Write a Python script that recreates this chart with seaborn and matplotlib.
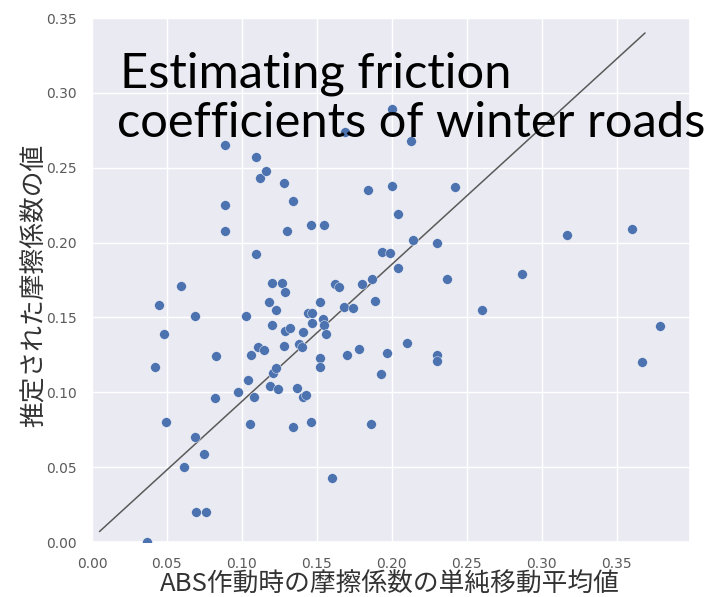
import matplotlib
matplotlib.use("Agg")
import matplotlib.pyplot as plt
import seaborn as sns
import pandas as pd

# ---- data ----
abs_mean = [0.037, 0.042, 0.045, 0.048, 0.0495, 0.0595, 0.0615, 0.069, 0.069, 0.0695,
            0.075, 0.076, 0.082, 0.083, 0.089, 0.089, 0.089, 0.0976, 0.103, 0.104,
            0.1056, 0.106, 0.108, 0.1096, 0.1096, 0.111, 0.112, 0.115, 0.116, 0.118,
            0.119, 0.120, 0.120, 0.121, 0.123, 0.123, 0.124, 0.127, 0.128, 0.129,
            0.128, 0.129, 0.130, 0.132, 0.134, 0.134, 0.137, 0.138, 0.140, 0.141,
            0.141, 0.143, 0.144, 0.147, 0.147, 0.146, 0.146, 0.152, 0.152, 0.152,
            0.154, 0.155, 0.156, 0.155, 0.160, 0.162, 0.165, 0.168, 0.169, 0.170,
            0.174, 0.178, 0.180, 0.184, 0.186, 0.187, 0.189, 0.1925, 0.1935, 0.197,
            0.1985, 0.200, 0.200, 0.204, 0.204, 0.210, 0.213, 0.214, 0.230, 0.230,
            0.230, 0.2366, 0.242, 0.260, 0.287, 0.317, 0.360, 0.367, 0.379]
estimated = [0.000, 0.117, 0.158, 0.139, 0.080, 0.171, 0.050, 0.151, 0.070, 0.020,
             0.059, 0.020, 0.096, 0.124, 0.265, 0.225, 0.208, 0.100, 0.151, 0.108,
             0.079, 0.125, 0.097, 0.257, 0.1925, 0.130, 0.243, 0.128, 0.248, 0.160,
             0.104, 0.173, 0.145, 0.113, 0.116, 0.155, 0.102, 0.173, 0.240, 0.167,
             0.131, 0.141, 0.208, 0.143, 0.228, 0.077, 0.103, 0.132, 0.130, 0.140,
             0.097, 0.098, 0.153, 0.153, 0.146, 0.080, 0.212, 0.160, 0.123, 0.117,
             0.149, 0.145, 0.139, 0.212, 0.043, 0.172, 0.170, 0.157, 0.274, 0.125,
             0.156, 0.129, 0.172, 0.235, 0.079, 0.176, 0.161, 0.112, 0.194, 0.126,
             0.193, 0.289, 0.238, 0.219, 0.183, 0.133, 0.268, 0.202, 0.200, 0.125,
             0.121, 0.176, 0.237, 0.155, 0.179, 0.205, 0.209, 0.120, 0.144]

line_x = [0.005, 0.369]
line_y = [0.007, 0.340]

x_ticks = [0.00, 0.05, 0.10, 0.15, 0.20, 0.25, 0.30, 0.35]
y_ticks = [0.00, 0.05, 0.10, 0.15, 0.20, 0.25, 0.30, 0.35]

x_label = "ABS作動時の摩擦係数の単純移動平均値"
y_label = "推定された摩擦係数の値"
title_lines = ["Estimating friction", "coefficients of winter roads"]

df = pd.DataFrame({"abs_mean": abs_mean, "estimated": estimated})

sns.set_theme(style="darkgrid")
plt.rcParams["font.family"] = ["DejaVu Sans", "Noto Sans CJK JP"]

fig = plt.figure(figsize=(7.15, 5.97), dpi=100)
ax = fig.add_axes([92 / 715, 55 / 597, 598 / 715, 524 / 597])

sns.scatterplot(data=df, x="abs_mean", y="estimated", ax=ax,
                color="#4C72B0", s=50, edgecolor="white", linewidth=0.3, zorder=3)
ax.plot(line_x, line_y, color="#5a5a5a", lw=1.1, zorder=2)

ax.set_xlim(0, 0.399)
ax.set_ylim(0, 0.35)
ax.set_xticks(x_ticks)
ax.set_yticks(y_ticks)
ax.set_xticklabels([f"{v:.2f}" for v in x_ticks])
ax.set_yticklabels([f"{v:.2f}" for v in y_ticks])
ax.tick_params(axis="both", labelsize=10, labelcolor="#5a5a5a", pad=5)

cjk = ["Noto Sans CJK JP", "DejaVu Sans"]
ax.set_xlabel(x_label, fontsize=18.5, color="#333333", family=cjk)
ax.set_ylabel(y_label, fontsize=18.5, color="#333333", family=cjk)
ax.xaxis.label.set_va("center")
ax.yaxis.label.set_va("center")
ax.xaxis.set_label_coords(0.498, -0.081)
ax.yaxis.set_label_coords(-0.095, 0.49)

# overlaid title text (two lines)
fig.text(120 / 715, 1 - 88 / 597, title_lines[0], fontsize=35.2, family="Lato",
         color="black", ha="left", va="baseline")
fig.text(117 / 715, 1 - 137 / 597, title_lines[1], fontsize=35.2, family="Lato",
         color="black", ha="left", va="baseline")

fig.savefig("out.png", dpi=100)
